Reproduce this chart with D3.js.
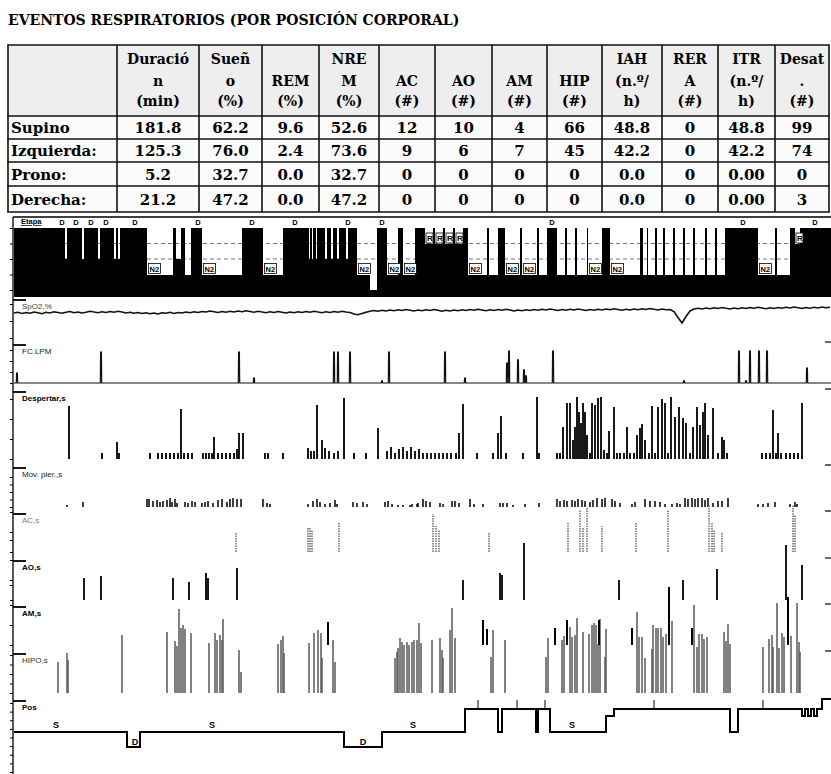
<!DOCTYPE html>
<html><head><meta charset="utf-8">
<script src="https://cdn.jsdelivr.net/npm/d3@7"></script>
<style>body{margin:0;background:#fff}svg{display:block}</style>
</head><body><svg id="c" width="831" height="774"></svg>
<script>
// ---------------- DATA ----------------
const chartTitle = "EVENTOS RESPIRATORIOS (POR POSICIÓN CORPORAL)";
const headerLines = [["Duració","n","(min)"],["Sueñ","o","(%)"],["","REM","(%)"],["NRE","M","(%)"],["","AC","(#)"],["","AO","(#)"],["","AM","(#)"],["","HIP","(#)"],["IAH","(n.º/","h)"],["RER","A","(#)"],["ITR","(n.º/","h)"],["Desat",".","(#)"]];
const posCategories = ["Supino","Izquierda:","Prono:","Derecha:"];
const duracionMin = ["181.8","125.3","5.2","21.2"];
const suenoPct = ["62.2","76.0","32.7","47.2"];
const remPct = ["9.6","2.4","0.0","0.0"];
const nremPct = ["52.6","73.6","32.7","47.2"];
const acCount = ["12","9","0","0"];
const aoCount = ["10","6","0","0"];
const amCount = ["4","7","0","0"];
const hipCount = ["66","45","0","0"];
const iahIdx = ["48.8","42.2","0.0","0.0"];
const reraCount = ["0","0","0","0"];
const itrIdx = ["48.8","42.2","0.00","0.00"];
const desatCount = ["99","74","0","3"];

// time in 30-s epochs
const totalEpochs = 817;
const stages = ["W","R","N1","N2","N3"];
// [start, end, stage, labelled]
const hypnoSegments = [
[51,53,"N1",0],[68,70,"N1",0],[84,86,"N1",0],[100,102,"N1",0],[104,106,"N1",0],
[133,159,"N2",1],[162,167,"N1",0],[171,177,"N2",0],[188,228,"N2",1],[249,269,"N2",1],
[295,296,"N1",0],[298,299,"N1",0],[302,303,"N1",0],[311,313,"N1",0],[317,319,"N1",0],[323,325,"N1",0],[332,334,"N1",0],
[343,356,"N2",1],[356,363,"N3",0],[373,384,"N2",1],[389,401,"N2",1],
[411,419,"R",1],[421,429,"R",1],[431,439,"R",1],[441,449,"R",1],
[454,473,"N2",1],[475,484,"N2",0],[491,506,"N2",1],[508,523,"N2",1],[525,533,"N2",0],
[543,551,"N2",0],[553,561,"N2",0],[563,573,"N2",0],[574,588,"N2",1],[596,626,"N2",1],
[629,633,"N2",0],[634,641,"N2",0],[643,649,"N2",0],[651,659,"N2",0],[661,669,"N2",0],[671,679,"N2",0],[681,691,"N2",0],[693,701,"N2",0],[703,711,"N2",0],
[744,761,"N2",1],[763,776,"N2",0],[781,786,"R",1]
];
const wakeMarks = [48,62,77,92,121,184,238,281,334,368,538,729,801];

// SpO2 every 4 epochs
const spo2Step = 4;
const spo2 = [
95.6,95.9,95.4,95.8,95.5,96.0,95.7,95.3,95.9,95.6,96.1,95.8,95.5,95.9,96.2,95.7,96.0,95.6,95.9,96.3,
96.0,95.7,96.1,95.8,96.2,95.9,96.3,96.0,95.6,95.9,95.5,95.8,95.4,95.7,95.3,95.6,95.2,95.7,95.5,95.9,
95.4,95.8,95.6,96.0,95.7,96.1,95.8,96.2,96.0,96.4,96.1,95.8,96.2,95.9,96.3,96.0,96.4,96.1,96.5,96.2,
95.9,96.3,96.0,95.7,96.1,95.8,96.2,95.9,95.6,96.0,95.7,96.1,95.8,96.2,95.9,96.3,96.0,95.7,96.1,95.8,
96.2,95.9,96.3,96.0,95.8,95.2,94.9,95.4,95.9,96.3,96.6,96.3,96.7,96.4,96.8,96.5,96.9,96.6,97.0,96.7,
96.4,96.8,96.5,96.9,96.6,97.0,96.7,96.3,96.7,96.4,96.8,96.5,96.9,96.6,97.0,96.7,97.1,96.8,96.5,96.9,
96.6,97.0,96.7,97.1,96.8,96.4,96.8,96.5,96.9,96.6,97.0,96.7,97.1,96.8,97.2,96.9,96.6,97.0,96.7,97.1,
96.8,97.2,96.9,96.6,97.0,96.7,97.1,96.8,97.2,96.9,97.3,97.0,96.7,97.1,96.8,97.2,96.9,97.3,97.0,97.4,
97.1,96.8,97.2,96.9,97.0,96.2,93.8,91.6,94.2,96.4,97.2,97.5,97.2,97.6,97.3,97.7,97.4,97.8,97.5,97.2,
97.6,97.3,97.7,97.4,97.8,97.5,97.9,97.6,97.3,97.7,97.4,97.8,97.5,97.9,97.6,98.0,97.7,97.4,97.8,97.5,
97.9,97.6,98.0,97.7,97.9];

const fcBaseline = 60;
const fcSpikes = [[3,78],[87,116],[225,116],[240,69],[320,116],[324,116],[336,116],[368,64],[375,116],[431,116],[451,69],[493,96],[495,118],[504,102],[510,84],[512,73],[539,118],[670,64],[725,118],[732,64],[736,118],[745,118],[753,118],[793,87]];

const despertarEvents = [
[55,26.5],[88,3],[103,8.5],[105,3],[136,3],
[144,3],[148,3],[152,3],[156,3],[160,3],[164,3],[167,25],[170,3],[174,3],[178,3],
[189,3],[192,3],[195,3],[198,3],[200,11],[204,3],[208,3],[212,3],[216,3],[220,3],[223,5],[225,13],[229,13],
[251,3],[254,3],[269,3],
[294,5.5],[297,4],[300,4],[303,27],[308,9.5],[311,5.5],[315,4],[320,3],[324,4],[330,30.5],
[340,3],[352,3],[364,15.5],
[373,4],[377,6],[381,3],[385,5],[389,6],[393,4],[397,6],[401,4],[405,5],
[409,3],[413,3],[417,3],[421,3],[425,3],[429,3],[433,3],[437,3],[442,3],[445,13],[449,27.5],
[463,3],[479,3],[484,13],[487,21.5],[492,3],[509,3],[523,31],[525,3],
[543,3],[546,3],[549,16],[553,28],[556,28],[559,9.5],[561,16],[563,31],[565,23.5],[567,18],[569,28],[571,23.5],[573,12],[576,3],[578,28],[581,27],[584,30.5],[587,31],[590,4.5],[593,3],[595,14],[600,26],[603,3],[606,3],[610,3],[613,16],[616,3],[620,3],[623,12],[626,15.5],[628,17.5],[631,9.5],[635,3],[638,26.5],[641,3],[644,26],[648,30],[651,28],[654,3],[657,31],[661,21],[665,26],[669,20.5],[672,18],[676,3],[679,16],[683,26],[686,17],[689,23.5],[691,28],[694,12],[699,25.5],[704,3],[708,11],[710,9.5],[713,3],
[748,3],[752,3],[756,3],[759,24.5],[762,3],[764,13],[767,3],[772,3],[776,3],[780,3],[784,3],[788,28]
];

const movEvents = [
[53,2],[69,5],
[133,8],[135,8],[139,6],[143,7],[146,5],[149,6],[153,7],[156,9],[158,5],[161,8],[163,4],
[171,5],[174,4],[178,6],[181,5],
[188,4],[191,5],[194,6],[199,4],[204,7],[208,8],[213,5],[216,8],[219,9],[223,8],[227,8],
[249,8],[253,4],[256,3],
[294,3],[299,6],[303,8],[306,5],[311,3],[316,4],[321,7],[323,3],
[339,5],[343,4],[349,5],[353,3],
[371,5],[374,6],[378,3],[384,2],[389,2],[396,2],[403,3],
[398,3],[404,4],[409,8],[412,6],[416,5],[426,4],[429,3],
[438,6],[441,6],[445,4],[456,8],[460,3],[469,3],
[486,4],[489,4],[493,4],[499,2],[511,3],[525,4],
[543,8],[546,6],[550,7],[553,6],[558,7],[561,6],[564,8],[568,7],[571,6],[576,5],[579,7],[583,9],[588,8],[591,9],
[598,8],[601,6],[606,4],[618,3],[621,5],
[631,8],[636,6],[641,6],[646,5],[651,3],[658,3],[663,4],[666,3],
[671,9],[674,8],[678,9],[681,8],[684,9],[688,9],[691,7],[694,9],[699,4],[704,6],[708,6],[714,9],
[744,3],[749,3],[754,4],[761,5],[776,3],[781,5],[783,3]
];

const acEvents = [[222,20],[294,25],[296,25],[298,22],[325,29],[419,38],[422,26],[425,22],[475,20],[554,29],[566,42],[569,25],[573,45],[588,26],[622,29],[654,42],[695,47],[698,30],[700,22],[708,19],[779,47],[781,37]];
const aoEvents = [[70,22],[87,24],[159,22],[175,18],[192,27],[194,22],[223,32],[449,20],[486,27],[488,25],[510,57],[605,20],[669,20],[703,31],[772,55],[788,35]];
const amEvents = [[314,23],[469,25],[473,16],[541,17],[553,25],[585,25],[618,17],[655,58],[678,17],[774,48]];
const hipoEvents = [
[44,31],[53,40],[54,33],[108,58],
[153,61],[161,52],[163,47],[165,84],[167,65],[169,68],[171,64],[177,60],
[195,50],[201,60],[203,53],[206,58],[208,53],[209,74],[225,43],[227,21],
[264,49],[267,53],[269,57],[270,40],
[295,50],[300,60],[304,63],[307,60],[308,35],[319,53],[321,31],
[381,35],[383,41],[384,45],[386,55],[388,51],[390,48],[393,51],[395,48],[398,51],[400,53],[403,53],[405,70],[407,50],
[418,53],[426,55],[428,43],[429,35],[436,63],[438,85],[441,55],
[477,36],[479,63],[491,53],
[532,36],[534,55],[548,53],[550,57],[556,66],[558,56],[561,58],[563,75],[569,61],[575,59],[578,68],[580,70],[582,68],[584,49],[586,74],[591,36],[592,64],
[623,81],[625,56],[628,56],[631,35],[638,44],[639,68],[642,65],[644,65],[647,65],[649,56],[652,59],[658,72],
[680,88],[683,46],[685,59],[688,59],[690,54],[693,56],
[710,61],[712,52],[714,69],[716,49],
[749,46],[755,54],[758,58],[759,46],[763,90],[765,45],[768,60],[770,56],[777,57],[783,90],[785,51],[786,41]
];

const posLevels = ["P","I","U","S","D"];
const posSequence = [[0,"S"],[113,"D"],[126,"S"],[330,"D"],[368,"S"],[451,"I"],[484,"S"],[488,"I"],[522,"S"],[524,"I"],[536,"S"],[592,"U"],[600,"I"],[716,"S"],[724,"I"],[788,"U"],[791,"I"],[794,"U"],[797,"I"],[800,"U"],[803,"I"],[808,"P"],[817,"P"]];
const posLabels = [[42,"S"],[198,"S"],[399,"S"],[558,"S"],[121,"D"],[349,"D"]];
const posMarks = [464,503,531,640,749];

// ---------------- DRAW ----------------
const svg = d3.select("#c");
const serif = "'DejaVu Serif', serif";
const sans = "'Liberation Sans', Arial, sans-serif";

svg.append("text").attr("x",8).attr("y",25).text(chartTitle)
  .style("font-family",serif).style("font-weight","bold").style("font-size","14px");

// table
const colX = [8,117,199,262,319,379,435,492,547,602,662,718,775,829];
const rowY = [45,116,139,162,186,212];
const last = colX.length-1;
const tbl = svg.append("g");
tbl.append("rect").attr("x",colX[0]).attr("y",rowY[0]).attr("width",colX[last]-colX[0]).attr("height",rowY[1]-rowY[0]).attr("fill","#eeeeee");
tbl.append("rect").attr("x",colX[0]).attr("y",rowY[1]).attr("width",colX[last]-colX[0]).attr("height",rowY[5]-rowY[1]).attr("fill","#fbfbfb");
rowY.forEach(y=>tbl.append("line").attr("x1",colX[0]-0.8).attr("x2",colX[last]+0.8).attr("y1",y).attr("y2",y).attr("stroke","#111").attr("stroke-width",1.6));
colX.forEach(x=>tbl.append("line").attr("x1",x).attr("x2",x).attr("y1",rowY[0]).attr("y2",rowY[5]).attr("stroke","#111").attr("stroke-width",1.6));
const headBase = [64,86,106];
headerLines.forEach((lines,i)=>{
  const cx=(colX[i+1]+colX[i+2])/2;
  lines.forEach((t,j)=>{ if(!t) return;
    tbl.append("text").attr("x",cx).attr("y",headBase[j]).attr("text-anchor","middle").text(t)
      .style("font-family",serif).style("font-weight","bold").style("font-size","14px");
  });
});
const tableCols = [duracionMin,suenoPct,remPct,nremPct,acCount,aoCount,amCount,hipCount,iahIdx,reraCount,itrIdx,desatCount];
posCategories.forEach((c,r)=>{
  const by=(rowY[r+1]+rowY[r+2])/2+5.5;
  tbl.append("text").attr("x",11).attr("y",by).text(c)
    .style("font-family",serif).style("font-weight","bold").style("font-size","15px");
  tableCols.forEach((col,i)=>{
    tbl.append("text").attr("x",(colX[i+1]+colX[i+2])/2).attr("y",by).attr("text-anchor","middle").text(col[r])
      .style("font-family",serif).style("font-weight","bold").style("font-size","15px");
  });
});

// chart
const x = d3.scaleLinear().domain([0,totalEpochs]).range([14,831]);
const g = svg.append("g");
g.append("line").attr("x1",13).attr("x2",831).attr("y1",217).attr("y2",217).attr("stroke","#000").attr("stroke-width",1.4);
g.append("line").attr("x1",13).attr("x2",13).attr("y1",217).attr("y2",774).attr("stroke","#000").attr("stroke-width",1.3);

// hypnogram
const stageY = d3.scalePoint().domain(stages).range([228,290]);
const hypBottom = 297;
["R","N1"].forEach(s=>g.append("line").attr("x1",14).attr("x2",831).attr("y1",stageY(s)).attr("y2",stageY(s))
  .attr("stroke","#777").attr("stroke-width",1).attr("stroke-dasharray","4,3"));
const fullSegs=[]; let cur=0;
hypnoSegments.slice().sort((a,b)=>a[0]-b[0]).forEach(s=>{ if(s[0]>cur) fullSegs.push([cur,s[0],"W",0]); fullSegs.push(s); cur=s[1]; });
if(cur<totalEpochs) fullSegs.push([cur,totalEpochs,"W",0]);
g.append("g").attr("shape-rendering","crispEdges").selectAll("rect").data(fullSegs).join("rect")
  .attr("x",d=>x(d[0])).attr("width",d=>x(d[1])-x(d[0])).attr("y",d=>stageY(d[2])).attr("height",d=>hypBottom-stageY(d[2])).attr("fill","#000");
const labelled = hypnoSegments.filter(d=>d[3]);
labelled.forEach(d=>{
  if(d[2]==="N2"){
    g.append("rect").attr("x",x(d[0])+1.5).attr("y",stageY("N2")-11).attr("width",12).attr("height",10).attr("fill","#fff").attr("stroke","#000").attr("stroke-width",0.8);
    g.append("text").attr("x",x(d[0])+2.5).attr("y",stageY("N2")-3).text("N2").style("font-family",sans).style("font-weight","bold").style("font-size","7.5px");
  } else if(d[2]==="R"){
    g.append("rect").attr("x",x(d[0])+1).attr("y",stageY("W")+5).attr("width",7).attr("height",10).attr("fill","#fff").attr("stroke","#000").attr("stroke-width",0.8);
    g.append("text").attr("x",x(d[0])+2).attr("y",stageY("W")+13).text("R").style("font-family",sans).style("font-weight","bold").style("font-size","8px");
  }
});
wakeMarks.forEach(t=>g.append("text").attr("x",x(t)).attr("y",225).attr("text-anchor","middle").text("D")
  .style("font-family",sans).style("font-weight","bold").style("font-size","7.5px"));
g.append("text").attr("x",21).attr("y",224).text("Etapa").style("font-family",sans).style("font-weight","bold").style("font-size","7.5px").style("text-decoration","underline");
g.append("g").attr("transform","translate(13,0)").call(d3.axisLeft(stageY).tickSize(3).tickFormat("")).call(a=>a.select(".domain").remove());

// panel scales
const spo2Y = d3.scaleLinear().domain([100,85]).range([302,339.5]);
const fcY = d3.scaleLinear().domain([60,120]).range([383,350]);
const despY = d3.scaleLinear().domain([0,31.5]).range([459,396]);
const movY = d3.scaleLinear().domain([0,10]).range([507,497]);
const acY = d3.scaleLinear().domain([0,50]).range([552,502]);
const aoY = d3.scaleLinear().domain([0,60]).range([600,540]);
const amY = d3.scaleLinear().domain([0,60]).range([645,585]);
const hipoY = d3.scaleLinear().domain([0,90]).range([693,603]);
const posY = d3.scaleOrdinal().domain(posLevels).range([699,709,716,732,747]);
const posAxis = d3.scaleLinear().domain([0,8]).range([772,703]);

const panels = [
 {label:"SpO2,%", top:300, scale:d3.scaleLinear().domain([90,100]).range([338,304]), w:"normal", c:"#444"},
 {label:"FC.LPM", top:345, scale:fcY, w:"normal", c:"#222"},
 {label:"Despertar,s", top:392, scale:despY, w:"bold", c:"#000"},
 {label:"Mov. pier.,s", top:468, scale:d3.scaleLinear().domain([0,20]).range([507,477]), w:"normal", c:"#222"},
 {label:"AC,s", top:514, scale:acY, w:"normal", c:"#777"},
 {label:"AO,s", top:561, scale:aoY, w:"bold", c:"#000"},
 {label:"AM,s", top:607, scale:amY, w:"bold", c:"#000"},
 {label:"HIPO,s", top:654, scale:d3.scaleLinear().domain([0,40]).range([693,655]), w:"normal", c:"#333"},
 {label:"Pos", top:701, scale:posAxis, w:"bold", c:"#000"}
];
panels.forEach(p=>{
  g.append("g").attr("transform","translate(13,0)").call(d3.axisLeft(p.scale).ticks(p.label==="Pos"?8:3).tickSize(3).tickFormat("")).call(a=>a.select(".domain").remove());
  g.append("line").attr("x1",13).attr("x2",26).attr("y1",p.top).attr("y2",p.top).attr("stroke","#000").attr("stroke-width",1.8);
  g.append("text").attr("x",22).attr("y",p.top+9).text(p.label).style("font-family",sans).style("font-weight",p.w).style("font-size","8px").attr("fill",p.c);
  if(p.top>340 && p.top<700) g.append("line").attr("x1",825).attr("x2",831).attr("y1",p.top-3).attr("y2",p.top-3).attr("stroke","#000").attr("stroke-width",1.2);
});

// SpO2
g.append("path").datum(spo2).attr("fill","none").attr("stroke","#111").attr("stroke-width",1.6)
  .attr("d",d3.line().x((d,i)=>x(i*spo2Step)).y(d=>spo2Y(d)));

// FC
const fcPts=[[0,fcBaseline]];
fcSpikes.forEach(([t,v])=>{fcPts.push([t-0.7,fcBaseline],[t-0.4,v],[t+0.4,v],[t+0.7,fcBaseline]);});
fcPts.push([totalEpochs,fcBaseline]);
g.append("path").datum(fcPts).attr("fill","none").attr("stroke","#111").attr("stroke-width",1.2)
  .attr("d",d3.line().x(d=>x(d[0])).y(d=>fcY(d[1])));

// bars
function bars(data, yS, w, color){
  return g.append("g").selectAll("rect").data(data).join("rect")
    .attr("x",d=>x(d[0])-w/2).attr("width",w).attr("y",d=>yS(d[1])).attr("height",d=>yS(0)-yS(d[1])).attr("fill",color);
}
bars(despertarEvents, despY, 1.8, "#000");
bars(movEvents, movY, 1.6, "#111");
g.append("g").selectAll("line").data(acEvents).join("line")
  .attr("x1",d=>x(d[0])).attr("x2",d=>x(d[0])).attr("y1",acY(0)).attr("y2",d=>acY(d[1]))
  .attr("stroke","#777").attr("stroke-width",1.6).attr("stroke-dasharray","1.5,1");
bars(aoEvents, aoY, 1.8, "#000");
bars(hipoEvents, hipoY, 1.5, "#5a5a5a");
bars(amEvents, amY, 2, "#000");

// position
g.append("path").datum(posSequence).attr("fill","none").attr("stroke","#000").attr("stroke-width",2)
  .attr("d",d3.line().curve(d3.curveStepAfter).x(d=>x(d[0])).y(d=>posY(d[1])));
posLabels.forEach(([t,c])=>g.append("text").attr("x",x(t)).attr("y",c==="S"?posY("S")-4:posY("D")-2).attr("text-anchor","middle").text(c)
  .style("font-family",sans).style("font-weight","bold").style("font-size","9px"));
g.append("g").selectAll("line").data(posMarks).join("line")
  .attr("x1",d=>x(d)).attr("x2",d=>x(d)).attr("y1",posY("P")+1).attr("y2",posY("I")-1).attr("stroke","#000").attr("stroke-width",1);
</script></body></html>
